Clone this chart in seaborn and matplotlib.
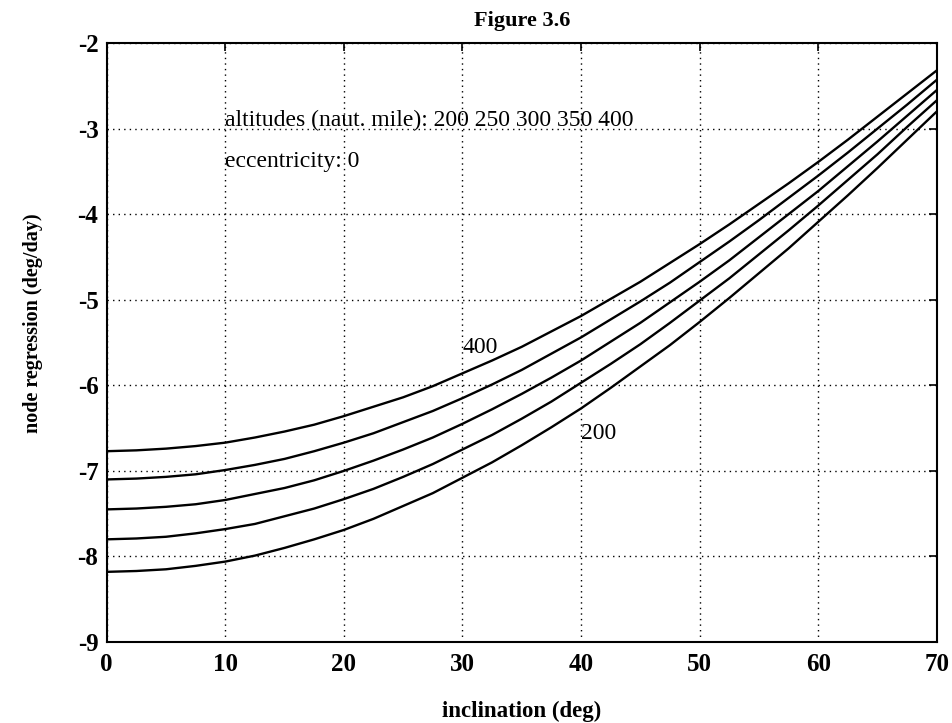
import matplotlib
matplotlib.use("Agg")
import matplotlib.pyplot as plt
import seaborn as sns
import pandas as pd

# Inclination grid (deg) and node regression rate (deg/day) per altitude
inclination = [0, 2.5, 5, 7.5, 10, 12.5, 15, 17.5, 20, 22.5, 25, 27.5, 30, 32.5, 35,
               37.5, 40, 42.5, 45, 47.5, 50, 52.5, 55, 57.5, 60, 62.5, 65, 67.5, 70]
alt_200 = [-8.18, -8.17, -8.15, -8.11, -8.06, -7.99, -7.90, -7.80, -7.69, -7.56, -7.41, -7.26,
           -7.08, -6.90, -6.70, -6.49, -6.27, -6.03, -5.78, -5.53, -5.26, -4.98, -4.69, -4.40,
           -4.09, -3.78, -3.46, -3.13, -2.80]
alt_250 = [-7.80, -7.79, -7.77, -7.73, -7.68, -7.62, -7.53, -7.44, -7.33, -7.21, -7.07, -6.92,
           -6.75, -6.58, -6.39, -6.19, -5.97, -5.75, -5.52, -5.27, -5.01, -4.75, -4.47, -4.19,
           -3.90, -3.60, -3.30, -2.98, -2.67]
alt_300 = [-7.45, -7.44, -7.42, -7.39, -7.34, -7.27, -7.20, -7.11, -7.00, -6.88, -6.75, -6.61,
           -6.45, -6.28, -6.10, -5.91, -5.71, -5.49, -5.27, -5.03, -4.79, -4.54, -4.27, -4.00,
           -3.73, -3.44, -3.15, -2.85, -2.55]
alt_350 = [-7.10, -7.09, -7.07, -7.04, -6.99, -6.93, -6.86, -6.77, -6.67, -6.56, -6.43, -6.30,
           -6.15, -5.99, -5.82, -5.63, -5.44, -5.23, -5.02, -4.80, -4.56, -4.32, -4.07, -3.81,
           -3.55, -3.28, -3.00, -2.72, -2.43]
alt_400 = [-6.77, -6.76, -6.74, -6.71, -6.67, -6.61, -6.54, -6.46, -6.36, -6.25, -6.14, -6.01,
           -5.86, -5.71, -5.55, -5.37, -5.19, -4.99, -4.79, -4.57, -4.35, -4.12, -3.88, -3.64,
           -3.39, -3.13, -2.86, -2.59, -2.32]
altitudes = [200, 250, 300, 350, 400]
x_ticks = [0, 10, 20, 30, 40, 50, 60, 70]
y_ticks = [-9, -8, -7, -6, -5, -4, -3, -2]

series = [alt_200, alt_250, alt_300, alt_350, alt_400]
df = pd.DataFrame(
    [(inc, alt, val) for alt, vals in zip(altitudes, series) for inc, val in zip(inclination, vals)],
    columns=["inclination", "altitude", "rate"],
)

sns.set_style("white")
plt.rcParams["font.family"] = ["Liberation Serif", "DejaVu Serif"]
plt.rcParams["text.color"] = "black"
plt.rcParams["axes.labelcolor"] = "black"
plt.rcParams["xtick.color"] = "black"
plt.rcParams["ytick.color"] = "black"

fig = plt.figure(figsize=(9.53, 7.23), dpi=100)
ax = fig.add_axes([0.112, 0.112, 0.871, 0.8285])

sns.lineplot(data=df, x="inclination", y="rate", hue="altitude",
             palette=["black"] * 5, linewidth=1.7, legend=False, ax=ax)

ax.set_xlim(0, 70)
ax.set_ylim(-9, -2)
ax.set_xticks(x_ticks)
ax.set_yticks(y_ticks)
ax.set_xticklabels([str(t) for t in x_ticks], fontsize=18, fontweight="bold")
ax.set_yticklabels([str(t) for t in y_ticks], fontsize=18, fontweight="bold")
ax.tick_params(direction="in", length=6, width=1.2, top=True, right=True,
               colors="black", pad=6)
ax.tick_params(axis="x", pad=8)
ax.grid(True, linestyle=(0, (1, 3)), color="black", linewidth=1.0)
for s in ax.spines.values():
    s.set_color("black")
    s.set_linewidth(1.5)

ax.set_xlabel("inclination (deg)", fontsize=16.5, fontweight="bold")
ax.xaxis.set_label_coords(0.5, -0.115)
ax.xaxis.label.set_va("center")
ax.set_ylabel("node regression (deg/day)", fontsize=14.5, fontweight="bold")
ax.yaxis.set_label_coords(-0.089, 0.533)
ax.yaxis.label.set_va("center")
ax.set_title("Figure 3.6", fontsize=16, fontweight="bold", pad=12)

ax.text(10, -2.9, "altitudes (naut. mile): 200 250 300 350 400", fontsize=17,
        va="center", ha="left")
ax.text(10, -3.39, "eccentricity: 0", fontsize=17, va="center", ha="left")
ax.text(30, -5.56, "400", fontsize=17, va="center", ha="left")
ax.text(40, -6.56, "200", fontsize=17, va="center", ha="left")

fig.savefig("out.png", dpi=100)
